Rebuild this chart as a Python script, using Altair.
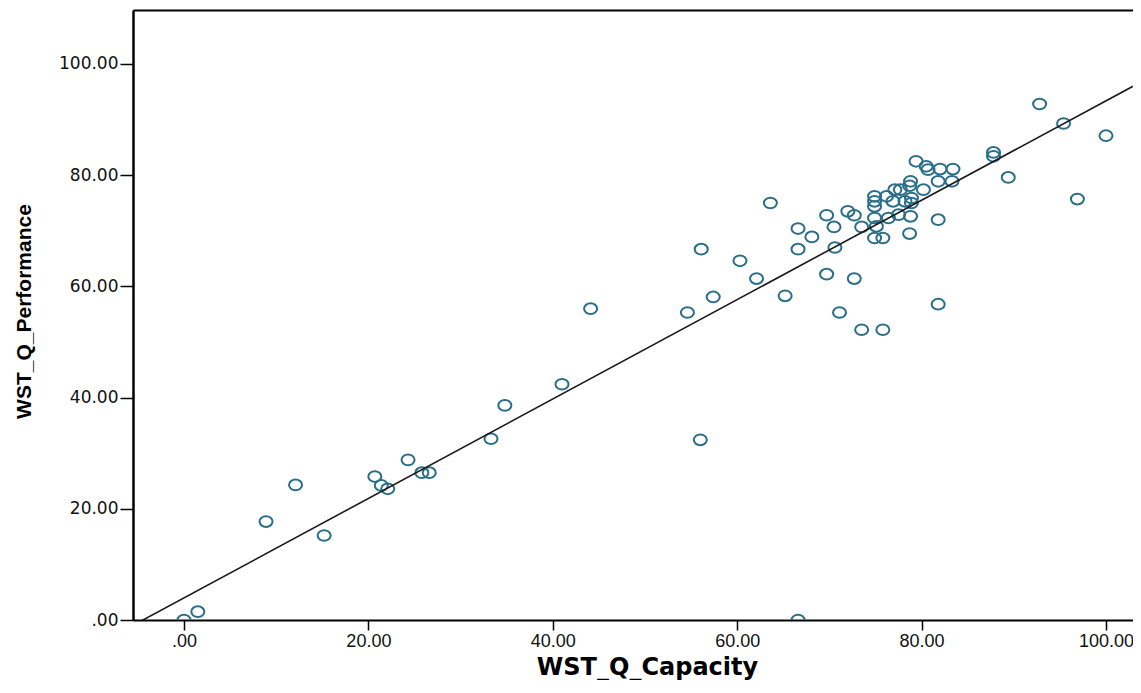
import altair as alt
import pandas as pd

# Values (WST_Q_Capacity vs WST_Q_Performance)
capacity = [
    0.0, 1.5, 8.9, 12.1, 15.2, 20.7, 21.4, 22.1, 24.3, 25.8, 26.6,
    33.3, 34.8, 41.0, 44.1, 54.6, 56.1, 56.0, 57.4, 60.3, 62.1, 63.6, 65.2, 66.6,
    66.6, 66.6, 68.1, 69.7, 69.7, 70.5, 70.6, 71.1, 72.0, 72.7, 72.7, 73.5, 73.5,
    74.9, 75.8, 75.8, 81.8, 74.9, 75.1,
    74.9, 74.9, 74.9, 76.2, 76.9, 77.1, 77.7, 78.2, 78.8, 78.7, 78.9, 78.9,
    79.4, 80.5, 80.2, 80.7, 82.0, 83.4, 81.8, 83.3, 81.8, 76.4, 77.5, 78.8,
    78.7, 87.8, 87.8, 89.4, 92.8, 95.4, 100.0, 96.9,
]
performance = [
    0.0, 1.5, 17.7, 24.3, 15.2, 25.8, 24.2, 23.6, 28.8, 26.5, 26.5,
    32.6, 38.6, 42.4, 56.0, 55.3, 66.7, 32.4, 58.1, 64.6, 61.4, 75.0, 58.3, 0.0,
    70.4, 66.7, 68.9, 72.8, 62.2, 70.7, 67.0, 55.3, 73.5, 72.8, 61.4, 70.7, 52.2,
    68.7, 68.7, 52.2, 56.8, 72.3, 70.8,
    76.2, 75.3, 74.4, 76.2, 75.3, 77.4, 77.4, 75.3, 78.9, 78.1, 75.9, 75.0,
    82.5, 81.6, 77.4, 81.0, 81.1, 81.1, 78.9, 78.9, 72.0, 72.3, 72.9, 72.6,
    69.5, 84.1, 83.4, 79.6, 92.8, 89.3, 87.1, 75.7,
]
# Fit line (Total): y = intercept + slope * x
fit_intercept = 3.98
fit_slope = 0.894

x_ticks = [0, 20, 40, 60, 80, 100]
y_ticks = [0, 20, 40, 60, 80, 100]
x_domain = [-5.53, 102.93]
y_domain = [0, 109.71]

df = pd.DataFrame({"WST_Q_Capacity": capacity, "WST_Q_Performance": performance})
line_df = pd.DataFrame({"WST_Q_Capacity": x_domain})

xs = alt.Scale(domain=x_domain, nice=False, zero=False)
ys = alt.Scale(domain=y_domain, nice=False, zero=False)
label_expr = "datum.value == 0 ? '.00' : format(datum.value, '.2f')"

ellipse = "M-1,0A1,0.82,0,1,1,1,0A1,0.82,0,1,1,-1,0Z"

y_axis = alt.Axis(
    values=y_ticks, labelExpr=label_expr, grid=False,
    tickSize=13, tickWidth=1.5, tickColor="black",
    domainColor="black", domainWidth=2.5,
    labelFont="DejaVu Sans", labelFontSize=17, labelColor="#111111", labelPadding=2,
    title="WST_Q_Performance", titleFont="Liberation Sans", titleFontSize=21,
    titleFontWeight="bold", titleColor="black",
    titleX=-109, titleY=301, titleAlign="center", titleBaseline="middle", titleAngle=270,
)
x_axis = alt.Axis(
    values=x_ticks, labelExpr=label_expr, grid=False,
    tickSize=10, tickWidth=1.5, tickColor="black",
    domainColor="black", domainWidth=2,
    labelFont="Liberation Sans", labelFontSize=18, labelColor="#111111", labelPadding=2,
    labelBound=False, labelOverlap=False,
    title="WST_Q_Capacity", titleFont="DejaVu Sans", titleFontSize=24,
    titleFontWeight="bold", titleColor="black",
    titleX=514, titleY=47, titleAlign="center", titleBaseline="middle",
)
top_axis = alt.Axis(
    orient="top", labels=False, ticks=False, title=None, grid=False,
    domainColor="black", domainWidth=2,
)

points = alt.Chart(df).mark_point(
    shape=ellipse, size=170, filled=False, stroke="#2a6f8a",
    strokeWidth=2, opacity=1, clip=True,
).encode(
    x=alt.X("WST_Q_Capacity:Q", scale=xs, axis=x_axis),
    y=alt.Y("WST_Q_Performance:Q", scale=ys, axis=y_axis),
)

fit = alt.Chart(line_df).transform_calculate(
    WST_Q_Performance=f"{fit_intercept} + {fit_slope} * datum.WST_Q_Capacity"
).mark_line(color="#1a1a1a", strokeWidth=1.6, clip=True).encode(
    x=alt.X("WST_Q_Capacity:Q", scale=xs, axis=top_axis),
    y=alt.Y("WST_Q_Performance:Q", scale=ys, axis=y_axis),
)

chart = alt.layer(points, fit).resolve_axis(x="independent").properties(
    width=1000, height=610,
    autosize=alt.AutoSizeParams(type="none"),
    padding={"left": 125, "top": 2, "right": 0, "bottom": 60},
).configure_view(fill="#f0f0f0", stroke=None).configure(background="white")

chart.save("out.html", embed_options={"renderer": "svg", "actions": False})
